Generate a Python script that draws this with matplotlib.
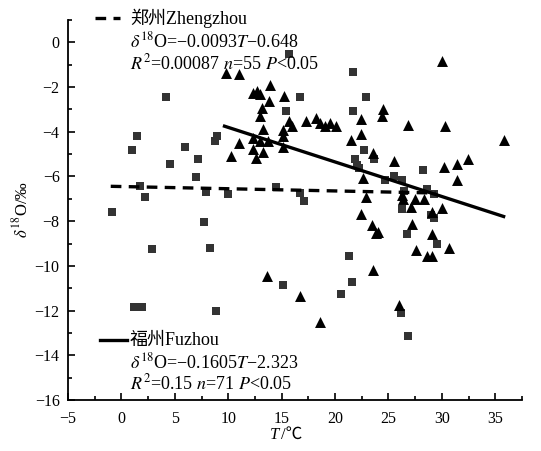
import matplotlib
matplotlib.use("Agg")
import matplotlib.pyplot as plt
from matplotlib.lines import Line2D
from matplotlib.ticker import MultipleLocator

plt.rcParams['font.family'] = ['Liberation Serif', 'Noto Sans CJK SC']
plt.rcParams['mathtext.fontset'] = 'stix'
plt.rcParams['axes.unicode_minus'] = True

# Zhengzhou (squares)
zz_T = [-0.9, 1.15, 1.9, 1.02, 1.45, 1.76, 2.17, 2.91, 4.19, 4.53, 5.96, 7.01, 7.17, 7.72,
        7.94, 8.28, 8.75, 8.94, 8.87, 9.99, 14.45, 15.08, 15.39, 15.7, 16.69, 16.69, 17.07,
        20.57, 21.35, 21.59, 21.7, 21.69, 21.9, 22.1, 22.69, 22.93, 23.68, 24.7, 25.54,
        26.31, 26.5, 26.31, 26.77, 26.16, 26.87, 28.2, 28.64, 29.26, 29.0, 29.3, 29.57, 22.2]
zz_d = [-7.6, -11.82, -11.82, -4.83, -4.17, -6.44, -6.93, -9.23, -2.45, -5.42, -4.69, -6.02,
        -5.24, -8.05, -6.71, -9.2, -4.42, -4.17, -12.03, -6.78, -6.47, -10.86, -3.05, -0.51,
        -2.45, -6.74, -7.08, -11.26, -9.58, -10.73, -1.33, -3.05, -5.24, -5.47, -4.8, -2.45,
        -5.21, -6.14, -5.99, -6.14, -6.66, -7.44, -8.56, -12.09, -13.13, -5.72, -6.56, -6.77,
        -7.72, -7.85, -9.01, -5.6]

# Fuzhou (triangles)
fz_T = [9.77, 11.04, 13.9, 12.35, 12.72, 12.97, 15.2, 13.84, 13.13, 12.97, 15.7, 16.0, 17.3,
        18.25, 18.55, 19.1, 19.5, 20.1, 13.28, 15.14, 15.14, 12.35, 12.97, 13.74, 11.04, 15.08,
        12.35, 13.28, 12.6, 10.24, 21.5, 22.44, 22.44, 23.52, 22.65, 22.9, 22.43, 23.46, 23.83,
        23.52, 13.65, 16.69, 18.61, 30.0, 24.45, 24.39, 26.87, 30.29, 35.78, 25.54, 32.46,
        31.38, 30.2, 31.44, 26.31, 26.4, 27.5, 29.97, 29.1, 27.1, 27.18, 29.04, 27.6, 28.57,
        29.04, 30.66, 26.0, 28.33, 23.99]
fz_d = [-1.36, -1.4, -1.93, -2.25, -2.18, -2.33, -2.38, -2.63, -2.93, -3.3, -3.53, -3.75, -3.53,
        -3.38, -3.6, -3.75, -3.6, -3.75, -3.87, -3.9, -4.2, -4.27, -4.42, -4.42, -4.5, -4.68,
        -4.77, -4.92, -5.17, -5.07, -4.35, -3.42, -4.12, -4.95, -6.07, -6.9, -7.66, -8.16, -8.53,
        -10.17, -10.47, -11.34, -12.52, -0.84, -2.96, -3.3, -3.71, -3.74, -4.35, -5.32, -5.21,
        -5.42, -5.59, -6.17, -6.81, -7.03, -7.03, -7.41, -7.6, -7.37, -8.13, -8.56, -9.28, -9.58,
        -9.58, -9.2, -11.74, -7.0, -8.5]

# Regression lines as drawn
zz_line_T = [-1.0, 29.4]
zz_line_d = [-6.44, -6.74]
fz_line_T = [9.65, 35.78]
fz_line_d = [-3.75, -7.79]

xticks = [-5, 0, 5, 10, 15, 20, 25, 30, 35]
yticks = [0, -2, -4, -6, -8, -10, -12, -14, -16]

fig = plt.figure(figsize=(5.41, 4.51), dpi=100)
ax = fig.add_axes([68/541, 51/451, (522-68)/541, (400-20)/451])

ax.scatter(zz_T, zz_d, marker='s', s=34, color='#333333', linewidths=0, zorder=3)
ax.scatter(fz_T, fz_d, marker='^', s=62, color='black', linewidths=0, zorder=4)
ax.plot(zz_line_T, zz_line_d, color='black', lw=2.4, ls=(0, (3.2, 2.2)), zorder=5)
ax.plot(fz_line_T, fz_line_d, color='black', lw=2.4, zorder=5)

ax.set_xlim(-5, 37.5)
ax.set_ylim(-16, 1)
ax.set_xticks(xticks)
ax.set_yticks(yticks)
ax.set_xticklabels([f"{t:d}".replace('-', '\u2212') for t in xticks])
ax.set_yticklabels([f"{t:d}".replace('-', '\u2212') for t in yticks])
ax.xaxis.set_minor_locator(MultipleLocator(2.5))
ax.yaxis.set_minor_locator(MultipleLocator(1))
ax.tick_params(which='both', direction='in', labelsize=11.5, width=1.2, colors='black')
ax.tick_params(which='major', length=5)
ax.tick_params(which='minor', length=3)
ax.tick_params(axis='y', pad=6)
ax.tick_params(axis='x', pad=8)
for s in ['top', 'right']:
    ax.spines[s].set_visible(False)
for s in ['left', 'bottom']:
    ax.spines[s].set_linewidth(1.3)

ax.set_ylabel(r'$\delta^{18}$O/‰', fontsize=12, labelpad=2)

def fx(px):
    return px / 541
def fy(py):
    return 1 - py / 451

# x-axis label: italic T + /℃
fig.text(fx(279), fy(435), 'T', fontsize=12, style='italic', ha='right', va='center',
         family=['Liberation Serif'])
fig.text(fx(281), fy(435), '/℃', fontsize=12, ha='left', va='center',
         family=['Liberation Serif', 'Noto Sans CJK SC'])

fs = 13
# Zhengzhou legend
fig.add_artist(Line2D([fx(95), fx(120)], [fy(18), fy(18)], color='black', lw=2.4,
                      ls=(0, (3.2, 2.2))))
fig.text(fx(130), fy(18), '郑州Zhengzhou', fontsize=fs, va='center', ha='left')
fig.text(fx(130), fy(41), r'$\delta^{18}$O=−0.0093$T$−0.648', fontsize=fs, va='center', ha='left')
fig.text(fx(130), fy(63), r'$R^{2}$=0.00087 $n$=55 $P$<0.05', fontsize=fs, va='center', ha='left')
# Fuzhou legend
fig.add_artist(Line2D([fx(100), fx(127)], [fy(340), fy(340)], color='black', lw=2.4))
fig.text(fx(130), fy(340), '福州Fuzhou', fontsize=fs, va='center', ha='left')
fig.text(fx(130), fy(362), r'$\delta^{18}$O=−0.1605$T$−2.323', fontsize=fs, va='center', ha='left')
fig.text(fx(130), fy(383), r'$R^{2}$=0.15 $n$=71 $P$<0.05', fontsize=fs, va='center', ha='left')

fig.savefig('out.png', dpi=100)
